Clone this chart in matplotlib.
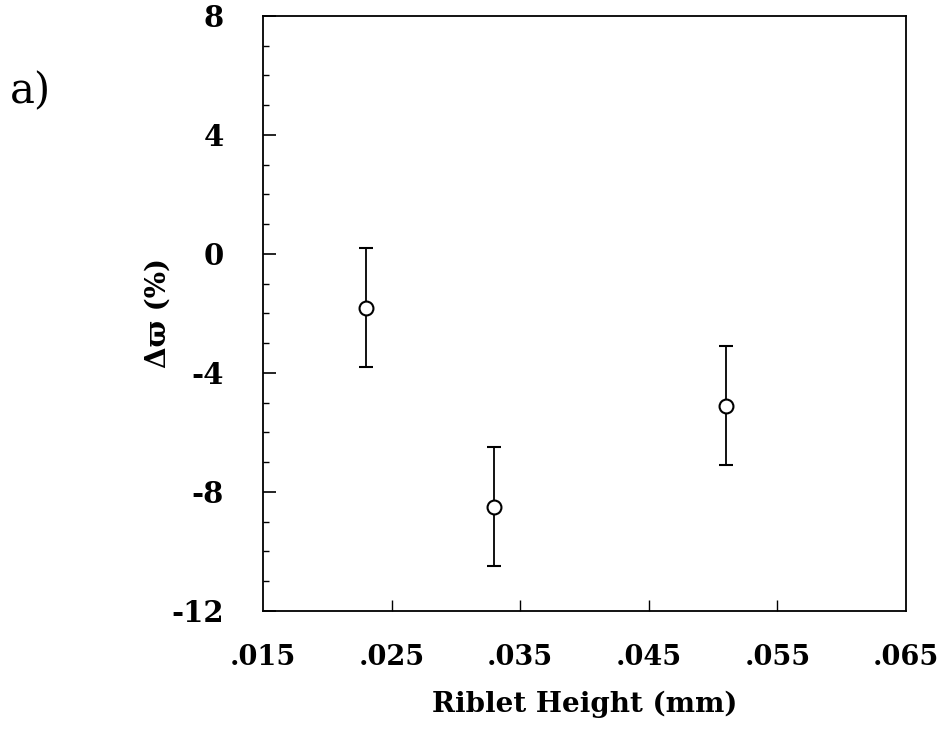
import numpy as np
import matplotlib
matplotlib.use('Agg')
import matplotlib.pyplot as plt
from matplotlib.ticker import MultipleLocator

# riblet height (mm) vs change in drag (%)
height = [0.023, 0.033, 0.051]
dvarpi = [-1.8, -8.5, -5.1]
err = [2.0, 2.0, 2.0]

xticks = [0.015, 0.025, 0.035, 0.045, 0.055, 0.065]
xticklabels = ['.015', '.025', '.035', '.045', '.055', '.065']
yticks = [-12, -8, -4, 0, 4, 8]

plt.rcParams['font.family'] = ['DejaVu Serif']

fig = plt.figure(figsize=(9.4, 7.31), dpi=100)
ax = fig.add_axes([0.2798, 0.1642, 0.684, 0.814])

ax.errorbar(height, dvarpi, yerr=err, fmt='o', mfc='white', mec='black',
            ecolor='black', ms=10, mew=1.5, elinewidth=1.3, capsize=4.8,
            capthick=1.3, zorder=3)

ax.set_xlim(0.015, 0.065)
ax.set_ylim(-12, 8)

ax.set_xticks(xticks)
ax.set_xticklabels(xticklabels, fontsize=19.5, fontweight='bold')
ax.set_yticks(yticks)
ax.set_yticklabels([str(v) for v in yticks], fontsize=21, fontweight='bold')
ax.yaxis.set_minor_locator(MultipleLocator(1))

ax.tick_params(axis='y', which='major', direction='in', length=9, width=1.2,
               pad=28, right=False)
ax.tick_params(axis='y', which='minor', direction='in', length=4.5, width=1.0,
               right=False)
ax.tick_params(axis='x', which='major', direction='in', length=8, width=1.0,
               pad=24, top=False)
# no ticks drawn at the frame ends on x
for t in (ax.xaxis.get_major_ticks()[0], ax.xaxis.get_major_ticks()[-1]):
    t.tick1line.set_visible(False)

for s in ax.spines.values():
    s.set_linewidth(1.3)

ax.set_xlabel('Riblet Height (mm)', fontsize=20, fontweight='bold', labelpad=14)
ax.set_ylabel('\u0394\u03d6 (%)', fontsize=20, fontweight='bold', labelpad=0)

fig.text(0.01, 0.875, 'a)', fontsize=30, ha='left', va='center')

fig.savefig('out.png', dpi=100)
